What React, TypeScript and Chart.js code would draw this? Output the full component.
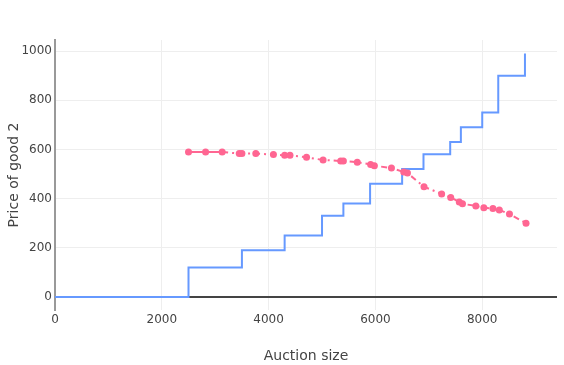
import React, { useEffect, useRef } from "react";
import { Chart, registerables } from "chart.js";

Chart.register(...registerables);

const stepX = [0, 2500, 3500, 4300, 5000, 5400, 5900, 6500, 6900, 7400, 7600, 8000, 8300, 8800];
const stepY = [0, 120, 190, 250, 330, 380, 460, 520, 580, 630, 690, 750, 900, 990];

const priceX = [2500, 2820, 3130, 3450, 3500, 3760, 4090, 4300, 4400, 4710, 5020, 5350, 5400, 5660, 5910, 5980, 6300, 6530, 6600, 6910, 7240, 7410, 7570, 7630, 7880, 8030, 8200, 8320, 8510, 8820];
const priceY = [590, 590, 590, 583, 583, 583, 579, 576, 576, 568, 557, 553, 553, 548, 539, 534, 524, 508, 504, 448, 419, 405, 386, 379, 370, 363, 360, 354, 337, 300];

const xTicks = [0, 2000, 4000, 6000, 8000];
const yTicks = [0, 200, 400, 600, 800, 1000];

const xTitle = "Auction size";
const yTitle = "Price of good 2";

export default function App() {
  const ref = useRef<HTMLCanvasElement>(null);
  useEffect(() => {
    document.body.style.margin = "0";
    const FONT = "'DejaVu Sans', Verdana, sans-serif";
    const stepData = stepX.map((x, i) => ({ x, y: stepY[i] }));
    const priceData = priceX.map((x, i) => ({ x, y: priceY[i] }));
    const chart = new Chart(ref.current!, {
      type: "scatter",
      data: {
        datasets: [
          {
            data: priceData,
            showLine: true,
            borderColor: "#ff6692",
            backgroundColor: "#ff6692",
            borderWidth: 2,
            pointRadius: 3.5,
            pointHoverRadius: 3.5,
            pointBorderWidth: 0,
            segment: {
              borderDash: (ctx: any) => (ctx.p0DataIndex < 2 ? [] : [6, 4, 2, 4]),
            },
          },
          {
            data: stepData,
            showLine: true,
            stepped: "before",
            borderColor: "#6699ff",
            borderWidth: 2,
            pointRadius: 0,
            pointHoverRadius: 0,
          },
        ],
      },
      options: {
        animation: false,
        responsive: false,
        layout: { padding: { left: 6, right: 7, top: 40, bottom: 0 } },
        plugins: { legend: { display: false }, tooltip: { enabled: false } },
        scales: {
          x: {
            type: "linear",
            min: 0,
            max: 9400,
            afterFit: (s: any) => { s.height = 55; },
            afterBuildTicks: (s: any) => { s.ticks = xTicks.map((v) => ({ value: v })); },
            ticks: {
              color: "#444",
              font: { family: FONT, size: 12 },
              padding: 3,
              maxRotation: 0,
              autoSkip: false,
              callback: (v: any) => String(v),
            },
            grid: { color: "#eeeeee", drawTicks: false, lineWidth: 1 },
            border: { display: false },
            title: {
              display: true,
              text: xTitle,
              color: "#444",
              font: { family: FONT, size: 14 },
              padding: { top: 18, bottom: 0 },
            },
          },
          y: {
            type: "linear",
            min: -53,
            max: 1045,
            afterFit: (s: any) => { s.width = 49; },
            afterBuildTicks: (s: any) => { s.ticks = yTicks.map((v) => ({ value: v })); },
            ticks: {
              color: "#444",
              font: { family: FONT, size: 12 },
              padding: 3,
              autoSkip: false,
              callback: (v: any) => String(v),
            },
            grid: {
              color: (ctx: any) => (ctx.tick && ctx.tick.value === 0 ? "#444444" : "#eeeeee"),
              lineWidth: (ctx: any) => (ctx.tick && ctx.tick.value === 0 ? 2 : 1),
              drawTicks: false,
            },
            border: { display: true, color: "#999999", width: 2 },
            title: {
              display: true,
              text: yTitle,
              color: "#444",
              font: { family: FONT, size: 14 },
              padding: { top: 0, bottom: 2 },
            },
          },
        },
      },
    });
    return () => chart.destroy();
  }, []);
  return <canvas ref={ref} width={564} height={365} style={{ display: "block" }} />;
}
